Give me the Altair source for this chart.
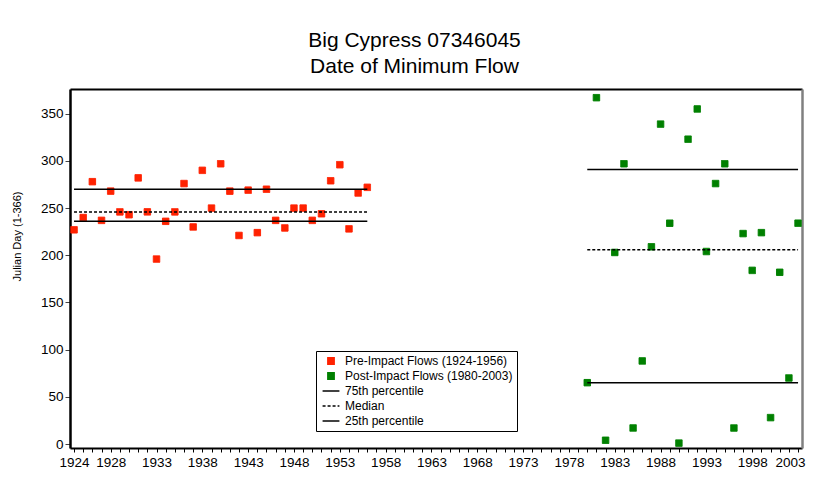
import altair as alt
import pandas as pd

# ---- data ----
pre_years = list(range(1924, 1957))
pre_days = [227, 240, 278, 237, 268, 246, 243, 282, 246, 196, 236, 246, 276, 230, 290,
            250, 297, 268, 221, 269, 224, 270, 237, 229, 250, 250, 237, 244, 279, 296,
            228, 266, 272]
post_years = list(range(1980, 2004))
post_days = [65, 367, 4, 203, 297, 17, 88, 209, 339, 234, 1, 323, 355, 204, 276, 297,
             17, 223, 184, 224, 28, 182, 70, 234]

series_names = ["Pre-Impact Flows (1924-1956)", "Post-Impact Flows (1980-2003)",
                "75th percentile", "Median", "25th percentile"]
pct_names = ["75th percentile", "Median", "25th percentile"]
pre_pct = [270, 246, 236]
post_pct = [291, 206, 65]
pre_span = [1924, 1956]
post_span = [1980, 2003]

x_label_years = [1924, 1928, 1933, 1938, 1943, 1948, 1953, 1958, 1963, 1968, 1973,
                 1978, 1983, 1988, 1993, 1998, 2003]
x_tick_years = list(range(1924, 2004))
y_ticks = [0, 50, 100, 150, 200, 250, 300, 350]

RED = "#ff2200"
GREEN = "#008000"
FONT = "Liberation Sans"
LINE = "M-2.6,0H2.6"

pts = pd.DataFrame({
    "year": pre_years + post_years,
    "day": pre_days + post_days,
    "series": [series_names[0]] * len(pre_years) + [series_names[1]] * len(post_years),
})

rows = []
for span, pct in ((pre_span, pre_pct), (post_span, post_pct)):
    for name, v in zip(pct_names, pct):
        rows.append({"x0": span[0], "x1": span[1], "val": v, "series": name})
rules_df = pd.DataFrame(rows)

xscale = alt.Scale(domain=[1923.56, 2003.43], nice=False, zero=False)
yscale = alt.Scale(domain=[-4.2, 376.2], nice=False, zero=False)

leg = alt.Legend(title=None, orient="none", legendX=246, legendY=262,
                 strokeColor="black", fillColor="white", padding=4, cornerRadius=0,
                 labelFont=FONT, labelFontSize=12, labelColor="black", labelLimit=300,
                 labelOffset=8, symbolOffset=5, rowPadding=3, symbolStrokeWidth=1.3,
                 symbolSize=42)

label_expr = "indexof([" + ",".join(str(v) for v in x_label_years) + "], datum.value) >= 0 ? datum.label : ''"
last_label_test = "datum.value >= " + str(x_label_years[-1])

x_axis = alt.Axis(values=x_tick_years, format="d", labelExpr=label_expr, labelOverlap=False,
                  labelAlign={"condition": {"test": last_label_test, "value": "right"},
                              "value": "center"},
                  labelOffset={"condition": {"test": last_label_test, "value": 7},
                               "value": 0},
                  title=None, grid=False, tickSize=4, tickColor="black", tickWidth=1,
                  domainColor="black", domainWidth=2, labelFont=FONT, labelFontSize=13.5,
                  labelColor="black", labelPadding=3, orient="bottom")
y_axis = alt.Axis(values=y_ticks, title="Julian Day (1-366)", grid=False, tickSize=5,
                  tickColor="#444", domainColor="black", domainWidth=2.5, labelFont=FONT,
                  labelFontSize=13.5, labelColor="black", labelPadding=2,
                  titleFont=FONT, titleFontSize=11, titleFontWeight="normal",
                  titleColor="black", titlePadding=18, titleY=147, titleAlign="center",
                  orient="left")
top_axis = alt.Axis(orient="top", labels=False, ticks=False, title=None, grid=False,
                    domainColor="black", domainWidth=2)
right_axis = alt.Axis(orient="right", labels=False, ticks=False, title=None, grid=False,
                      domainColor="#808080", domainWidth=2.5)

dash_scale = alt.Scale(domain=series_names, range=[[1, 0], [1, 0], [1, 0], [3, 2], [1, 0]])

points = alt.Chart(pts).mark_point(filled=True, opacity=1, strokeWidth=1, size=42).encode(
    x=alt.X("year:Q", scale=xscale, axis=x_axis),
    y=alt.Y("day:Q", scale=yscale, axis=y_axis),
    fill=alt.Fill("series:N", scale=alt.Scale(domain=series_names,
                  range=[RED, GREEN, "transparent", "transparent", "transparent"]), legend=leg),
    stroke=alt.Stroke("series:N", scale=alt.Scale(domain=series_names,
                      range=[RED, GREEN, "black", "black", "black"]), legend=leg),
    shape=alt.Shape("series:N", scale=alt.Scale(domain=series_names,
                    range=["square", "square", LINE, LINE, LINE]), legend=leg),
    strokeDash=alt.StrokeDash("series:N", scale=dash_scale, legend=leg),
)

rules = alt.Chart(rules_df).mark_rule(strokeWidth=1.5, color="black").encode(
    x=alt.X("x0:Q", scale=xscale, axis=top_axis),
    x2="x1:Q",
    y=alt.Y("val:Q", scale=yscale, axis=right_axis),
    strokeDash=alt.StrokeDash("series:N", scale=dash_scale, legend=leg),
)

chart = alt.layer(points, rules).resolve_axis(x="independent", y="independent").properties(
    width=732, height=359,
    autosize=alt.AutoSizeParams(type="none"),
    padding={"left": 62, "top": 81, "right": 4, "bottom": 22},
    title=alt.Title(["Big Cypress 07346045", "Date of Minimum Flow"], font=FONT,
                    fontSize=21, fontWeight="normal", color="black", anchor="middle",
                    dx=-21.5, lineHeight=26, offset=12),
).configure_view(stroke=None).configure(background="white")

chart.save("out.html", embed_options={"renderer": "svg", "actions": False})
